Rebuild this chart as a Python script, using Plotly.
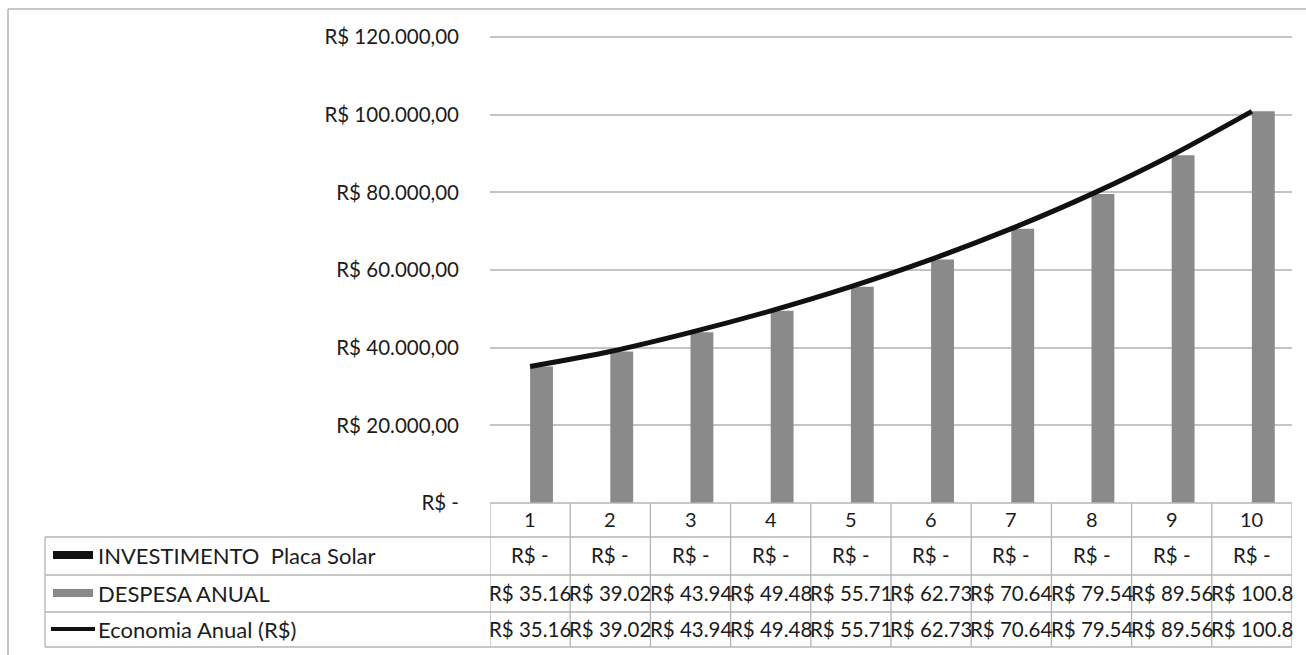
import plotly.graph_objects as go

# ---- data ----
years = ["1", "2", "3", "4", "5", "6", "7", "8", "9", "10"]
investimento = [0, 0, 0, 0, 0, 0, 0, 0, 0, 0]
despesa_anual = [35160, 39020, 43940, 49480, 55710, 62730, 70640, 79540, 89560, 100850]
economia_anual = [35160, 39020, 43940, 49480, 55710, 62730, 70640, 79540, 89560, 100850]
series_names = ["INVESTIMENTO  Placa Solar", "DESPESA ANUAL", "Economia Anual (R$)"]
y_tickvals = [0, 20000, 40000, 60000, 80000, 100000, 120000]
y_ticktext = ["R$ -", "R$ 20.000,00", "R$ 40.000,00", "R$ 60.000,00",
              "R$ 80.000,00", "R$ 100.000,00", "R$ 120.000,00"]

# ---- layout geometry (pixels) ----
W, H = 1306, 655
PL, PR, PT, PB = 490, 1292, 33, 503
Y_TOP_GRID_PX = 37
YMAX = 120000 * (PB - PT) / (PB - Y_TOP_GRID_PX)
FONT = "Lato"
TXT = "#1c1c1c"
BORDER = "#b4b4b4"


def px_x(p):
    return (p - PL) / (PR - PL)


def px_y(p):
    return (PB - p) / (PB - PT)


def brl(v):
    if v == 0:
        return "R$ -"
    s = f"{v:,.2f}".replace(",", "X").replace(".", ",").replace("X", ".")
    return ("R$ " + s)[:8]


fig = go.Figure()
fig.add_trace(go.Bar(x=years, y=investimento, name=series_names[0],
                     marker=dict(color="#111111", line=dict(width=0))))
fig.add_trace(go.Bar(x=years, y=despesa_anual, name=series_names[1],
                     marker=dict(color="#8a8a8a", line=dict(width=0))))
fig.add_trace(go.Scatter(x=years, y=economia_anual, name=series_names[2],
                         mode="lines", line=dict(color="#111111", width=5,
                                                 shape="spline", smoothing=0.8)))

shapes = []
annotations = []

# chart outer border (top and left visible)
shapes.append(dict(type="line", xref="paper", yref="paper",
                   x0=px_x(8), x1=px_x(1310), y0=px_y(9), y1=px_y(9),
                   line=dict(color=BORDER, width=1.5)))
shapes.append(dict(type="line", xref="paper", yref="paper",
                   x0=px_x(8), x1=px_x(8), y0=px_y(9), y1=px_y(660),
                   line=dict(color=BORDER, width=1.5)))

# data table
row_lines = [537, 575, 612, 647]
for r in row_lines:
    shapes.append(dict(type="line", xref="paper", yref="paper",
                       x0=px_x(45), x1=px_x(PR), y0=px_y(r), y1=px_y(r),
                       line=dict(color=BORDER, width=1.3)))
shapes.append(dict(type="line", xref="paper", yref="paper",
                   x0=px_x(PL), x1=px_x(PR), y0=px_y(PB), y1=px_y(PB),
                   line=dict(color=BORDER, width=1.3)))
shapes.append(dict(type="line", xref="paper", yref="paper",
                   x0=px_x(45), x1=px_x(45), y0=px_y(537), y1=px_y(647),
                   line=dict(color=BORDER, width=1.3)))
for k in range(len(years) + 1):
    shapes.append(dict(type="line", xref="x", yref="paper",
                       x0=k - 0.5, x1=k - 0.5, y0=px_y(PB), y1=px_y(647),
                       line=dict(color=BORDER, width=1.3)))

row_centers = [555, 593, 629]
table_rows = [[brl(v) for v in investimento],
              [brl(v) for v in despesa_anual],
              [brl(v) for v in economia_anual]]

for i, yr in enumerate(years):
    annotations.append(dict(x=i, y=px_y(519), xref="x", yref="paper", text=yr,
                            showarrow=False, xanchor="center", yanchor="middle",
                            font=dict(family=FONT, size=20, color=TXT)))
    for r, row in enumerate(table_rows):
        annotations.append(dict(x=i, y=px_y(row_centers[r]), xref="x", yref="paper",
                                text=row[i], showarrow=False, xanchor="center",
                                yanchor="middle",
                                font=dict(family=FONT, size=20.5, color=TXT)))

# legend keys + names
shapes.append(dict(type="rect", xref="paper", yref="paper",
                   x0=px_x(53), x1=px_x(93), y0=px_y(551), y1=px_y(559),
                   fillcolor="#111111", line=dict(width=0)))
shapes.append(dict(type="rect", xref="paper", yref="paper",
                   x0=px_x(53), x1=px_x(93), y0=px_y(589), y1=px_y(597),
                   fillcolor="#8a8a8a", line=dict(width=0)))
shapes.append(dict(type="line", xref="paper", yref="paper",
                   x0=px_x(51), x1=px_x(95), y0=px_y(629), y1=px_y(629),
                   line=dict(color="#111111", width=4)))
for r, name in enumerate(series_names):
    annotations.append(dict(x=px_x(96), y=px_y(row_centers[r]), xref="paper", yref="paper",
                            text=name, showarrow=False, xanchor="left", yanchor="middle",
                            font=dict(family=FONT, size=22, color=TXT)))

fig.update_layout(
    width=W, height=H,
    margin=dict(l=PL, r=W - PR, t=PT, b=H - PB, pad=0),
    paper_bgcolor="white", plot_bgcolor="white",
    barmode="group", bargap=0.43, bargroupgap=0,
    showlegend=False,
    shapes=shapes, annotations=annotations,
    font=dict(family=FONT, color=TXT),
)
fig.update_xaxes(type="category", range=[-0.5, 9.5], showticklabels=False,
                 showgrid=False, zeroline=False, showline=False, ticks="")
fig.update_yaxes(range=[0, YMAX], tickvals=y_tickvals, ticktext=y_ticktext,
                 showgrid=True, gridcolor="#c4c4c4", gridwidth=1.5,
                 zeroline=False, showline=False, ticks="",
                 ticklabelstandoff=30,
                 tickfont=dict(family=FONT, size=20.5, color=TXT))

fig.write_html("out.html", config={"displayModeBar": False},
               post_script="document.body.style.margin='0';"
                           "document.body.style.overflow='hidden';")
